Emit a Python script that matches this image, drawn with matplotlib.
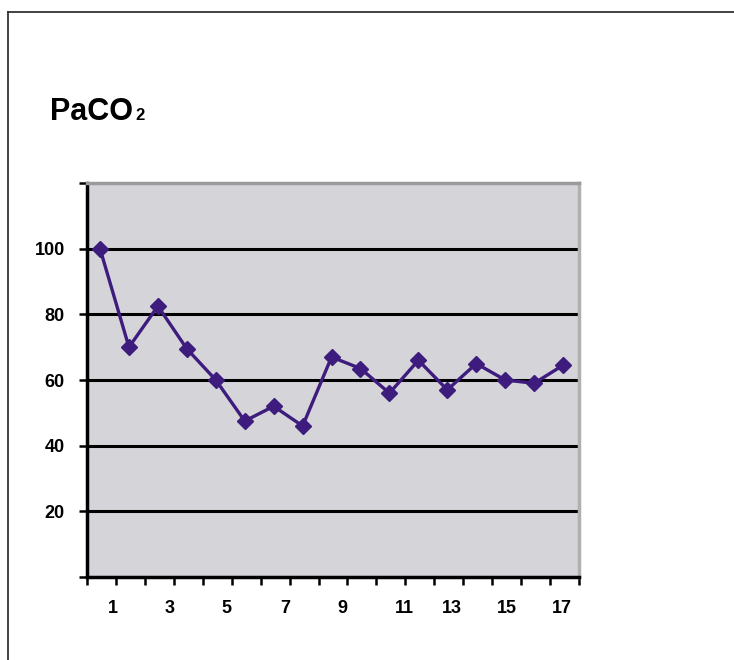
import numpy as np
import matplotlib
matplotlib.use('Agg')
import matplotlib.pyplot as plt

plt.rcParams['font.family'] = ['Liberation Sans', 'DejaVu Sans']

# PaCO2 readings, one per sample
sample = list(range(1, 18))
paco2 = [100, 70, 82.5, 69.5, 60, 47.5, 52, 46, 67, 63.5, 56, 66, 57, 65, 60, 59, 64.5]

ytick_vals = [0, 20, 40, 60, 80, 100, 120]
ytick_labels = ['', '20', '40', '60', '80', '100', '']
xlabels = ['1', '3', '5', '7', '9', '11', '13', '15', '17']
# label spots as they sit in the original (slightly skewed)
xlabel_pos = [1.45, 3.42, 5.38, 7.39, 9.36, 11.53, 13.15, 15.05, 16.95]

W, H = 734, 660
fig = plt.figure(figsize=(W / 100, H / 100), dpi=100)

# slide frame (cut off at right and bottom)
fig.add_artist(plt.Line2D([8 / W, 1.0], [1 - 12 / H, 1 - 12 / H], color='#333333', lw=1.3))
fig.add_artist(plt.Line2D([8 / W, 8 / W], [0, 1 - 12 / H], color='#333333', lw=1.3))

# title with small 2 sitting on the baseline
fig.text(50 / W, 1 - 120 / H, 'PaCO', fontsize=22, fontweight='bold', va='baseline', ha='left')
fig.text(135 / W, 1 - 120 / H, '2', fontsize=12, fontweight='bold', va='baseline', ha='left')

ax = fig.add_axes([87 / W, 1 - 577 / H, (579 - 87) / W, (577 - 183) / H])
ax.set_facecolor('#D5D4D9')

for v in [20, 40, 60, 80, 100]:
    ax.axhline(v, color='black', lw=2.2, zorder=1)

ax.plot(sample, paco2, color='#3D1C7E', lw=2.4, marker='D', markersize=8,
        markeredgecolor='#3D1C7E', zorder=3)

ax.set_xlim(0.55, 17.55)
ax.set_ylim(0, 120)

ax.set_yticks(ytick_vals)
ax.set_yticklabels(ytick_labels, fontsize=13, fontweight='bold')
ax.set_xticks(np.arange(0.55, 17.6, 1.0))
ax.set_xticklabels([])
ax.tick_params(axis='both', direction='out', length=6, width=1.8, color='black')
ax.tick_params(axis='y', pad=10)

for lab, pos in zip(xlabels, xlabel_pos):
    ax.text(pos, -0.08, lab, transform=ax.get_xaxis_transform(), ha='center', va='center',
            fontsize=13, fontweight='bold')

ax.spines['left'].set_color('black')
ax.spines['left'].set_linewidth(2.5)
ax.spines['bottom'].set_color('black')
ax.spines['bottom'].set_linewidth(2.5)
ax.spines['top'].set_color('#9a9a9a')
ax.spines['top'].set_linewidth(2.5)
ax.spines['right'].set_color('#b0b0b0')
ax.spines['right'].set_linewidth(2.5)

fig.savefig('out.png', dpi=100, facecolor='white')
